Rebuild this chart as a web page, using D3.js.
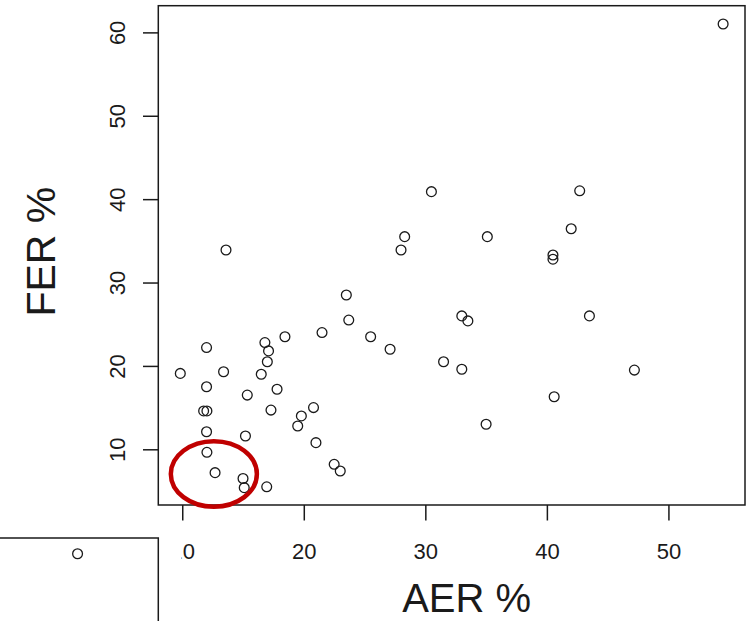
<!DOCTYPE html>
<html>
<head>
<meta charset="utf-8">
<script src="https://cdn.jsdelivr.net/npm/d3@7"></script>
<style>
  body { margin: 0; background: #fff; }
  svg { display: block; font-family: "Liberation Sans", Arial, sans-serif; }
</style>
</head>
<body>
<svg id="chart" width="750" height="621"></svg>
<script>
(function(){
    // AER % values
    var aer = [54.5, 30.5, 42.7, 42.0, 28.3, 28.0, 35.1, 40.5, 40.5, 13.6,
               23.5, 23.7, 33.0, 33.5, 43.5, 21.5, 16.8, 18.45, 12.0, 25.5,
               27.1, 17.1, 17.0, 31.5, 33.0, 47.2, 9.84, 13.4, 16.5, 12.0,
               17.8, 15.35, 40.6, 11.76, 12.03, 17.3, 20.8, 19.8, 19.5, 35.0,
               12.0, 15.2, 21.0, 12.03, 22.5, 23.0, 12.7, 15.0, 15.1, 16.95];
    // FER % values, same order
    var fer = [61.0, 40.9, 41.0, 36.45, 35.5, 33.9, 35.5, 33.3, 32.8, 33.9,
               28.5, 25.5, 26.0, 25.4, 26.0, 24.0, 22.8, 23.5, 22.2, 23.5,
               22.0, 21.8, 20.5, 20.5, 19.6, 19.5, 19.1, 19.3, 19.0, 17.5,
               17.2, 16.5, 16.3, 14.6, 14.6, 14.7, 15.0, 14.0, 12.8, 13.0,
               12.1, 11.6, 10.8, 9.64, 8.2, 7.4, 7.2, 6.5, 5.4, 5.5];

    var xTicks = [10, 20, 30, 40, 50],
        yTicks = [10, 20, 30, 40, 50, 60],
        xDomain = [8.03, 56.3],
        yDomain = [3.32, 63.2];

    // red ring drawn round the low cluster (data units)
    var ring = {cx: 12.6, cy: 7.04, rx: 3.54, ry: 3.93};

    // the partly hidden neighbouring panel, bottom left
    var insetX = [4.9], insetY = [8.1];

    var W = 750, H = 621,
        margin = {top: 5.7, right: 5, bottom: 116, left: 158.3},
        innerW = W - margin.left - margin.right,
        innerH = H - margin.top - margin.bottom,
        ink = "#1a1a1a",
        tickFont = 22;

    var svg = d3.select("#chart");
    var g = svg.append("g")
        .attr("transform", "translate(" + margin.left + "," + margin.top + ")");

    var x = d3.scaleLinear().domain(xDomain).range([0, innerW]);
    var y = d3.scaleLinear().domain(yDomain).range([innerH, 0]);

    // x axis
    var xAxis = g.append("g")
        .attr("transform", "translate(0," + innerH + ")")
        .call(d3.axisBottom(x).tickValues(xTicks).tickSize(15.5).tickPadding(23.2));
    xAxis.select(".domain").remove();
    xAxis.selectAll("line").attr("stroke", ink).attr("stroke-width", 1.5);
    xAxis.selectAll("text").attr("font-size", tickFont).attr("fill", ink)
        .attr("font-family", "Liberation Sans, Arial, sans-serif");

    // y axis, labels turned parallel to the axis like base R
    var yAxis = g.append("g")
        .call(d3.axisLeft(y).tickValues(yTicks).tickSize(15.3));
    yAxis.select(".domain").remove();
    yAxis.selectAll("line").attr("stroke", ink).attr("stroke-width", 1.5);
    yAxis.selectAll("text")
        .attr("font-size", tickFont).attr("fill", ink)
        .attr("font-family", "Liberation Sans, Arial, sans-serif")
        .attr("text-anchor", "middle")
        .attr("dy", null)
        .attr("x", 0)
        .attr("y", -33.5)
        .attr("transform", "rotate(-90)");

    // plot box
    g.append("rect")
        .attr("width", innerW).attr("height", innerH)
        .attr("fill", "none").attr("stroke", ink).attr("stroke-width", 1.5);

    // points
    g.selectAll("circle.pt")
        .data(d3.range(aer.length))
        .enter()
        .append("circle")
        .attr("class", "pt")
        .attr("cx", function(i){ return x(aer[i]); })
        .attr("cy", function(i){ return y(fer[i]); })
        .attr("r", 4.9)
        .attr("fill", "none")
        .attr("stroke", ink)
        .attr("stroke-width", 1.3);

    // annotation ring
    g.append("ellipse")
        .attr("cx", x(ring.cx)).attr("cy", y(ring.cy))
        .attr("rx", x(ring.cx + ring.rx) - x(ring.cx))
        .attr("ry", y(ring.cy - ring.ry) - y(ring.cy))
        .attr("fill", "none")
        .attr("stroke", "#c00000")
        .attr("stroke-width", 4.5);

    // axis titles
    svg.append("text")
        .attr("x", margin.left + x(33.4)).attr("y", 612)
        .attr("text-anchor", "middle")
        .attr("font-size", 40).attr("fill", ink)
        .text("AER %");

    svg.append("text")
        .attr("transform", "rotate(-90)")
        .attr("x", -(margin.top + y(33.7))).attr("y", 55)
        .attr("text-anchor", "middle")
        .attr("font-size", 41).attr("fill", ink)
        .text("FER %");

    // neighbouring panel pasted over the corner
    var inset = svg.append("g").attr("transform", "translate(0,526)");
    inset.append("rect")
        .attr("width", 181.5).attr("height", H - 526)
        .attr("fill", "#fff");
    var ix = d3.scaleLinear().domain([0, 10]).range([0, 158.3]);
    var iy = d3.scaleLinear().domain([0, 10]).range([H - 526, 12]);
    inset.append("path")
        .attr("d", "M0," + 12 + "H" + ix(10) + "V" + (H - 526))
        .attr("fill", "none").attr("stroke", ink).attr("stroke-width", 1.5);
    inset.selectAll("circle")
        .data(d3.range(insetX.length))
        .enter()
        .append("circle")
        .attr("cx", function(i){ return ix(insetX[i]); })
        .attr("cy", function(i){ return iy(insetY[i]); })
        .attr("r", 4.9)
        .attr("fill", "none")
        .attr("stroke", ink)
        .attr("stroke-width", 1.3);
})();
</script>
</body>
</html>
